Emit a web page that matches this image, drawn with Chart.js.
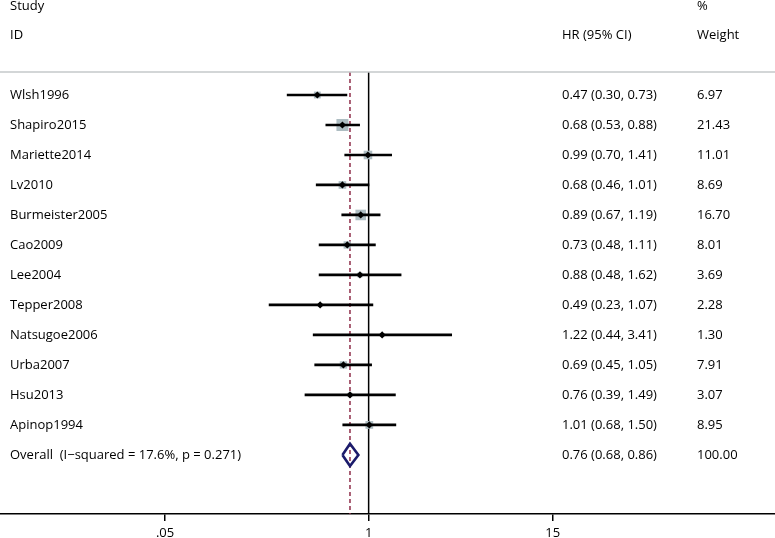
<!DOCTYPE html>
<html>
<head>
<meta charset="utf-8">
<script src="https://cdn.jsdelivr.net/npm/chart.js@4.4.1/dist/chart.umd.min.js"></script>
<style>
  html, body { margin: 0; padding: 0; background: #fff; }
  #wrap { width: 775px; height: 538px; position: relative; }
</style>
</head>
<body>
<div id="wrap"><canvas id="forest"></canvas></div>
<script>
// Données
const studies = ['Wlsh1996', 'Shapiro2015', 'Mariette2014', 'Lv2010', 'Burmeister2005', 'Cao2009',
  'Lee2004', 'Tepper2008', 'Natsugoe2006', 'Urba2007', 'Hsu2013', 'Apinop1994'];
const hr = [0.47, 0.68, 0.99, 0.68, 0.89, 0.73, 0.88, 0.49, 1.22, 0.69, 0.76, 1.01];
const lower = [0.30, 0.53, 0.70, 0.46, 0.67, 0.48, 0.48, 0.23, 0.44, 0.45, 0.39, 0.68];
const upper = [0.73, 0.88, 1.41, 1.01, 1.19, 1.11, 1.62, 1.07, 3.41, 1.05, 1.49, 1.50];
const weights = [6.97, 21.43, 11.01, 8.69, 16.70, 8.01, 3.69, 2.28, 1.30, 7.91, 3.07, 8.95];

const overallLabel = 'Overall  (I\u2212squared = 17.6%, p = 0.271)';
const overallHr = 0.76;
const overallLower = 0.68;
const overallUpper = 0.86;
const overallWeight = 100.00;

const tickValues = [0.05, 1, 15];
const tickLabels = ['.05', '1', '15'];

// Réglages
const FONT = '13px "Open Sans", "Noto Sans", sans-serif';
const overallRow = studies.length;
const lineTop = -0.767;   // ligne grise sous l'en-tête
const lineBottom = 13.97; // axe
const fmt = v => v.toFixed(2);

const datasets = [];

// Intervalles de confiance (un segment par étude)
studies.forEach((s, i) => {
  datasets.push({
    type: 'line',
    data: [{ x: lower[i], y: i }, { x: upper[i], y: i }],
    borderColor: '#000',
    borderWidth: 2.7,
    pointRadius: 0,
    order: 3
  });
});

// Carrés gris proportionnels au poids
datasets.push({
  type: 'scatter',
  data: hr.map((v, i) => ({ x: v, y: i })),
  pointStyle: 'rect',
  pointRadius: weights.map(w => 1.83 * Math.sqrt(w)),
  backgroundColor: '#aebdc2',
  borderWidth: 0,
  order: 4
});

// Points noirs
datasets.push({
  type: 'scatter',
  data: hr.map((v, i) => ({ x: v, y: i })),
  pointStyle: 'rectRot',
  pointRadius: 3.6,
  backgroundColor: '#000',
  borderWidth: 0,
  order: 1
});

// Losange global
datasets.push({
  type: 'line',
  data: [
    { x: overallLower, y: overallRow },
    { x: overallHr, y: overallRow - 0.37 },
    { x: overallUpper, y: overallRow },
    { x: overallHr, y: overallRow + 0.37 },
    { x: overallLower, y: overallRow }
  ],
  borderColor: '#1b1b6b',
  borderWidth: 2.6,
  pointRadius: 0,
  fill: false,
  order: 0
});

// Ligne de non-effet
datasets.push({
  type: 'line',
  data: [{ x: 1, y: lineTop }, { x: 1, y: lineBottom }],
  borderColor: '#000',
  borderWidth: 1.5,
  pointRadius: 0,
  order: 6
});

// Ligne pointillée de l'estimation globale
datasets.push({
  type: 'line',
  data: [{ x: overallHr, y: lineTop }, { x: overallHr, y: lineBottom }],
  borderColor: '#8e2c48',
  borderWidth: 1.5,
  borderDash: [4, 3],
  pointRadius: 0,
  order: 5
});

// Colonnes de texte
const textPlugin = {
  id: 'forestText',
  afterDraw(chart) {
    const ctx = chart.ctx;
    const y = chart.scales.y;
    const area = chart.chartArea;
    ctx.save();
    // ligne grise sous l'en-tête
    ctx.strokeStyle = '#c4c8ca';
    ctx.lineWidth = 1.5;
    ctx.beginPath();
    ctx.moveTo(area.left, y.getPixelForValue(lineTop));
    ctx.lineTo(area.right, y.getPixelForValue(lineTop));
    ctx.stroke();

    ctx.font = FONT;
    ctx.fillStyle = '#000';
    ctx.textBaseline = 'middle';
    ctx.textAlign = 'left';
    ctx.fillText('Study', 10, y.getPixelForValue(-2.95));
    ctx.fillText('ID', 10, y.getPixelForValue(-2));
    ctx.fillText('HR (95% CI)', 562, y.getPixelForValue(-2));
    ctx.fillText('%', 697, y.getPixelForValue(-2.95));
    ctx.fillText('Weight', 697, y.getPixelForValue(-2));

    studies.forEach((s, i) => {
      const py = y.getPixelForValue(i);
      ctx.fillText(s, 10, py);
      ctx.fillText(fmt(hr[i]) + ' (' + fmt(lower[i]) + ', ' + fmt(upper[i]) + ')', 562, py);
      ctx.fillText(fmt(weights[i]), 697, py);
    });
    const oy = y.getPixelForValue(overallRow);
    ctx.fillText(overallLabel, 10, oy);
    ctx.fillText(fmt(overallHr) + ' (' + fmt(overallLower) + ', ' + fmt(overallUpper) + ')', 562, oy);
    ctx.fillText(fmt(overallWeight), 697, oy);
    ctx.restore();
  }
};

new Chart(document.getElementById('forest'), {
  data: { datasets },
  options: {
    responsive: true,
    maintainAspectRatio: false,
    animation: false,
    layout: { padding: 0, autoPadding: false },
    plugins: { legend: { display: false }, tooltip: { enabled: false } },
    elements: { line: { tension: 0 } },
    scales: {
      x: {
        type: 'logarithmic',
        position: 'bottom',
        min: 0.00441,
        max: 395,
        afterBuildTicks: scale => { scale.ticks = tickValues.map(v => ({ value: v })); },
        afterFit: scale => { scale.height = 24; },
        ticks: {
          autoSkip: false,
          maxRotation: 0,
          padding: 4,
          color: '#000',
          font: { family: '"Open Sans", "Noto Sans", sans-serif', size: 13 },
          callback: (v, i) => tickLabels[i]
        },
        grid: { drawOnChartArea: false, drawTicks: true, tickLength: 7, color: '#000', lineWidth: 1.5 },
        border: { display: true, color: '#000', width: 1.5 }
      },
      y: {
        type: 'linear',
        reverse: true,
        min: -3.167,
        max: 13.97,
        display: false
      }
    }
  },
  plugins: [textPlugin]
});
</script>
</body>
</html>
